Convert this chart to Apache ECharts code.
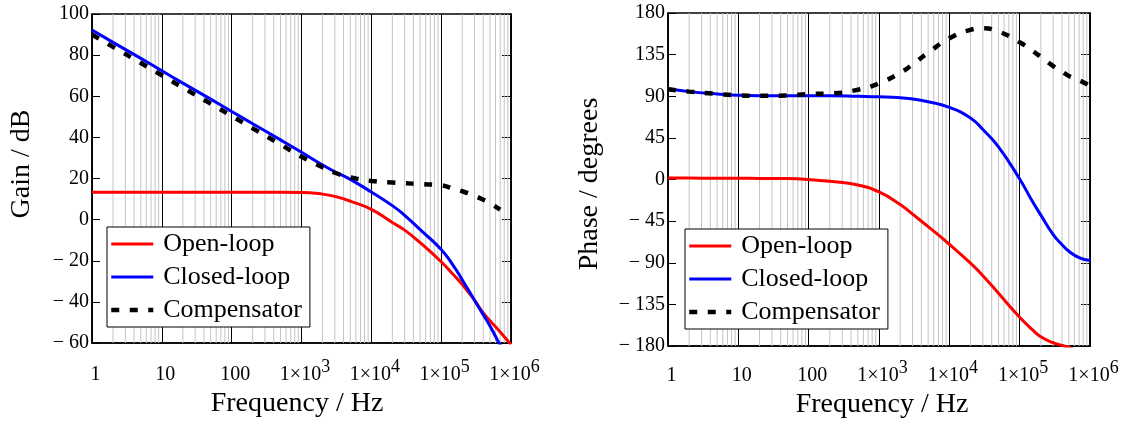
<!DOCTYPE html>
<html>
<head>
<meta charset="utf-8">
<script src="https://cdn.jsdelivr.net/npm/echarts@6/dist/echarts.min.js"></script>
<style>
  html, body { margin: 0; padding: 0; background: #fff; }
  #chart { width: 1123px; height: 425px; }
</style>
</head>
<body>
<div id="chart"></div>
<script>
// Frequency points (Hz) shared by all curves
const freqHz = [1, 2, 5, 10, 20, 50, 100, 200, 500, 1e3, 2e3, 3e3, 5e3, 1e4, 2e4, 3e4, 5e4,
                1e5, 1.5e5, 2e5, 3e5, 4e5, 5e5, 7e5, 1e6];

// Gain (dB)
const gainOpenLoop = [13.3, 13.3, 13.3, 13.3, 13.3, 13.3, 13.3, 13.3, 13.3, 13.2, 12.4, 11.3, 9.0,
                      5.0, -1.4, -5.1, -11.2, -20.5, -26.8, -31.5, -39.1, -45.4, -49.2, -54.6, -60.8];
const gainClosedLoop = [92.2, 86.2, 78.4, 72.4, 66.4, 58.6, 52.6, 46.6, 38.8, 32.8, 26.6, 23.3, 19.6,
                        13.4, 6.8, 2.1, -4.9, -14.5, -22.5, -29.2, -39.2, -46.2, -51.7, -61, -70];
const gainCompensator = [90, 84, 76.2, 70.2, 64.2, 56.4, 50.4, 44.4, 36.6, 30.6, 25.5, 22.8, 20.6,
                         18.8, 18.0, 17.7, 17.3, 16.7, 15.0, 13.8, 11.6, 9.7, 8.0, 4.9, null];

// Phase (degrees)
const phaseOpenLoop = [1.5, 1.5, 1.4, 1.3, 1.2, 1.0, 0, -2, -6, -13.5, -27, -37.5, -51,
                       -70, -90.5, -104, -123, -149, -162, -170, -176.5, -179.3, -181.5, -186, -191];
const phaseClosedLoop = [98, 95, 92.5, 91, 90.5, 90.5, 90.5, 90.5, 90, 89.5, 88.5, 87, 84,
                         78, 66.5, 54, 35.2, 0.5, -23, -38.5, -59.5, -70.5, -77.5, -84.5, -87.5];
const phaseCompensator = [97.5, 95, 92.5, 91, 90.5, 90.7, 92.5, 93, 97, 104, 115.3, 124.4, 137.1,
                          152.6, 161.8, 163.5, 160, 148.4, 139.4, 132.5, 122.6, 116.6, 112, 107.3, 101.4];

const seriesNames = ['Open-loop', 'Closed-loop', 'Compensator'];

// Decade tick labels: mantissa part and superscript power
const xTickBase = ['1', '10', '100', '1\u00d710', '1\u00d710', '1\u00d710', '1\u00d710'];
const xTickPower = ['', '', '', '3', '4', '5', '6'];

const FONT = 'Liberation Serif';

function pairs(values) {
  return freqHz.map((f, i) => [f, values[i]]);
}

// Light grey lines at 2..9 of every decade
const minorFreqs = [];
for (let d = 1; d < 1e6; d *= 10) {
  for (let k = 2; k <= 9; k++) minorFreqs.push(k * d);
}

function xAxisFor(gridIndex, labelMargin, nameGap, namePad) {
  return {
    type: 'log', logBase: 10, gridIndex, min: 1, max: 1e6, splitNumber: 6,
    name: 'Frequency / Hz', nameLocation: 'middle', nameGap,
    nameTextStyle: { fontFamily: FONT, fontSize: 28, color: '#000', padding: namePad },
    axisLine: { show: true, onZero: false, lineStyle: { color: '#000', width: 1.5 } },
    axisTick: { show: false },
    splitLine: { show: true, lineStyle: { color: '#000', width: 1 } },
    axisLabel: {
      margin: labelMargin,
      padding: [0, 0, 0, 7],
      formatter: (v) => {
        const e = Math.round(Math.log10(v));
        return xTickPower[e] ? '{b|' + xTickBase[e] + '}{sup|' + xTickPower[e] + '}'
                             : '{b|' + xTickBase[e] + '}';
      },
      rich: {
        b: { fontFamily: FONT, fontSize: 20, color: '#000', lineHeight: 20, padding: [7, 0, 0, 0], verticalAlign: 'top' },
        sup: { fontFamily: FONT, fontSize: 18, color: '#000', lineHeight: 18, verticalAlign: 'top' }
      }
    }
  };
}

function yAxisFor(gridIndex, min, max, interval, name, nameGap, namePad) {
  return {
    type: 'value', gridIndex, min, max, interval,
    name, nameLocation: 'middle', nameGap,
    nameTextStyle: { fontFamily: FONT, fontSize: 28, color: '#000', padding: namePad },
    axisLine: { show: true, onZero: false, lineStyle: { color: '#000', width: 1.5 } },
    axisTick: { show: true, inside: true, length: 8, lineStyle: { color: '#000', width: 1 } },
    splitLine: { show: false },
    axisLabel: {
      margin: 3, fontFamily: FONT, fontSize: 20, color: '#000',
      formatter: (v) => (v < 0 ? '\u2212 ' + Math.abs(v) : String(v))
    }
  };
}

function mirrorYAxis(gridIndex, min, max, interval) {
  return {
    type: 'value', gridIndex, min, max, interval, position: 'right',
    axisLine: { show: true, onZero: false, lineStyle: { color: '#000', width: 1.5 } },
    axisTick: { show: true, inside: true, length: 9, lineStyle: { color: '#000', width: 1 } },
    axisLabel: { show: false },
    splitLine: { show: false }
  };
}

function curves(gridIndex, yIndex, yMin, yMax, openV, closedV, compV) {
  const base = {
    type: 'line', xAxisIndex: gridIndex, yAxisIndex: yIndex, symbol: 'none', showSymbol: false,
    smooth: 0.5, clip: true, animation: false, z: 10
  };
  return [
    {
      // minor frequency grid
      type: 'custom', xAxisIndex: gridIndex, yAxisIndex: yIndex, silent: true, z: 1,
      animation: false, clip: true,
      data: minorFreqs.map(v => [v, yMin]),
      renderItem: (params, api) => {
        const a = api.coord([api.value(0), yMin]);
        const b = api.coord([api.value(0), yMax]);
        return {
          type: 'line', silent: true,
          shape: { x1: a[0], y1: a[1], x2: b[0], y2: b[1] },
          style: { stroke: '#c4c4c4', lineWidth: 1 }
        };
      }
    },
    Object.assign({}, base, {
      name: seriesNames[0], data: pairs(openV),
      itemStyle: { color: '#ff0000' },
      lineStyle: { color: '#ff0000', width: 3 }
    }),
    Object.assign({}, base, {
      name: seriesNames[1], data: pairs(closedV),
      itemStyle: { color: '#0000ff' },
      lineStyle: { color: '#0000ff', width: 3 }
    }),
    Object.assign({}, base, {
      name: seriesNames[2], data: pairs(compV),
      itemStyle: { color: '#000' },
      lineStyle: { color: '#000', width: 4.5, type: [8, 10.5] }
    })
  ];
}

function legendAt(left, top) {
  return {
    left, top, orient: 'vertical', selectedMode: false, z: 20,
    itemWidth: 42, itemHeight: 26, itemGap: 7,
    padding: [4, 8, 4, 2],
    borderColor: '#000', borderWidth: 1, backgroundColor: '#fff',
    itemStyle: { opacity: 0 },
    lineStyle: { width: 'inherit', type: 'inherit' },
    textStyle: { fontFamily: FONT, fontSize: 26, color: '#000', lineHeight: 26, padding: [0, 0, 0, 5] },
    data: seriesNames
  };
}

const chart = echarts.init(document.getElementById('chart'), null, { renderer: 'canvas' });
chart.setOption({
  backgroundColor: '#fff',
  animation: false,
  grid: [
    { left: 92, top: 14, width: 419, height: 329, show: true, borderColor: '#000', borderWidth: 1.5, backgroundColor: 'transparent' },
    { left: 668, top: 13, width: 422, height: 333, show: true, borderColor: '#000', borderWidth: 1.5, backgroundColor: 'transparent' }
  ],
  xAxis: [
    xAxisFor(0, 15, 43, [0, 9, 0, 0]),
    xAxisFor(1, 13, 44, [0, 0, 0, 6])
  ],
  yAxis: [
    yAxisFor(0, -60, 100, 20, 'Gain / dB', 56, [0, 0, 0, 29]),
    mirrorYAxis(0, -60, 100, 20),
    yAxisFor(1, -180, 180, 45, 'Phase / degrees', 64, [0, 9, 0, 0]),
    mirrorYAxis(1, -180, 180, 45)
  ],
  legend: [legendAt(107, 227), legendAt(685, 229)],
  series: [].concat(
    curves(0, 0, -60, 100, gainOpenLoop, gainClosedLoop, gainCompensator),
    curves(1, 2, -180, 180, phaseOpenLoop, phaseClosedLoop, phaseCompensator)
  )
});
</script>
</body>
</html>
